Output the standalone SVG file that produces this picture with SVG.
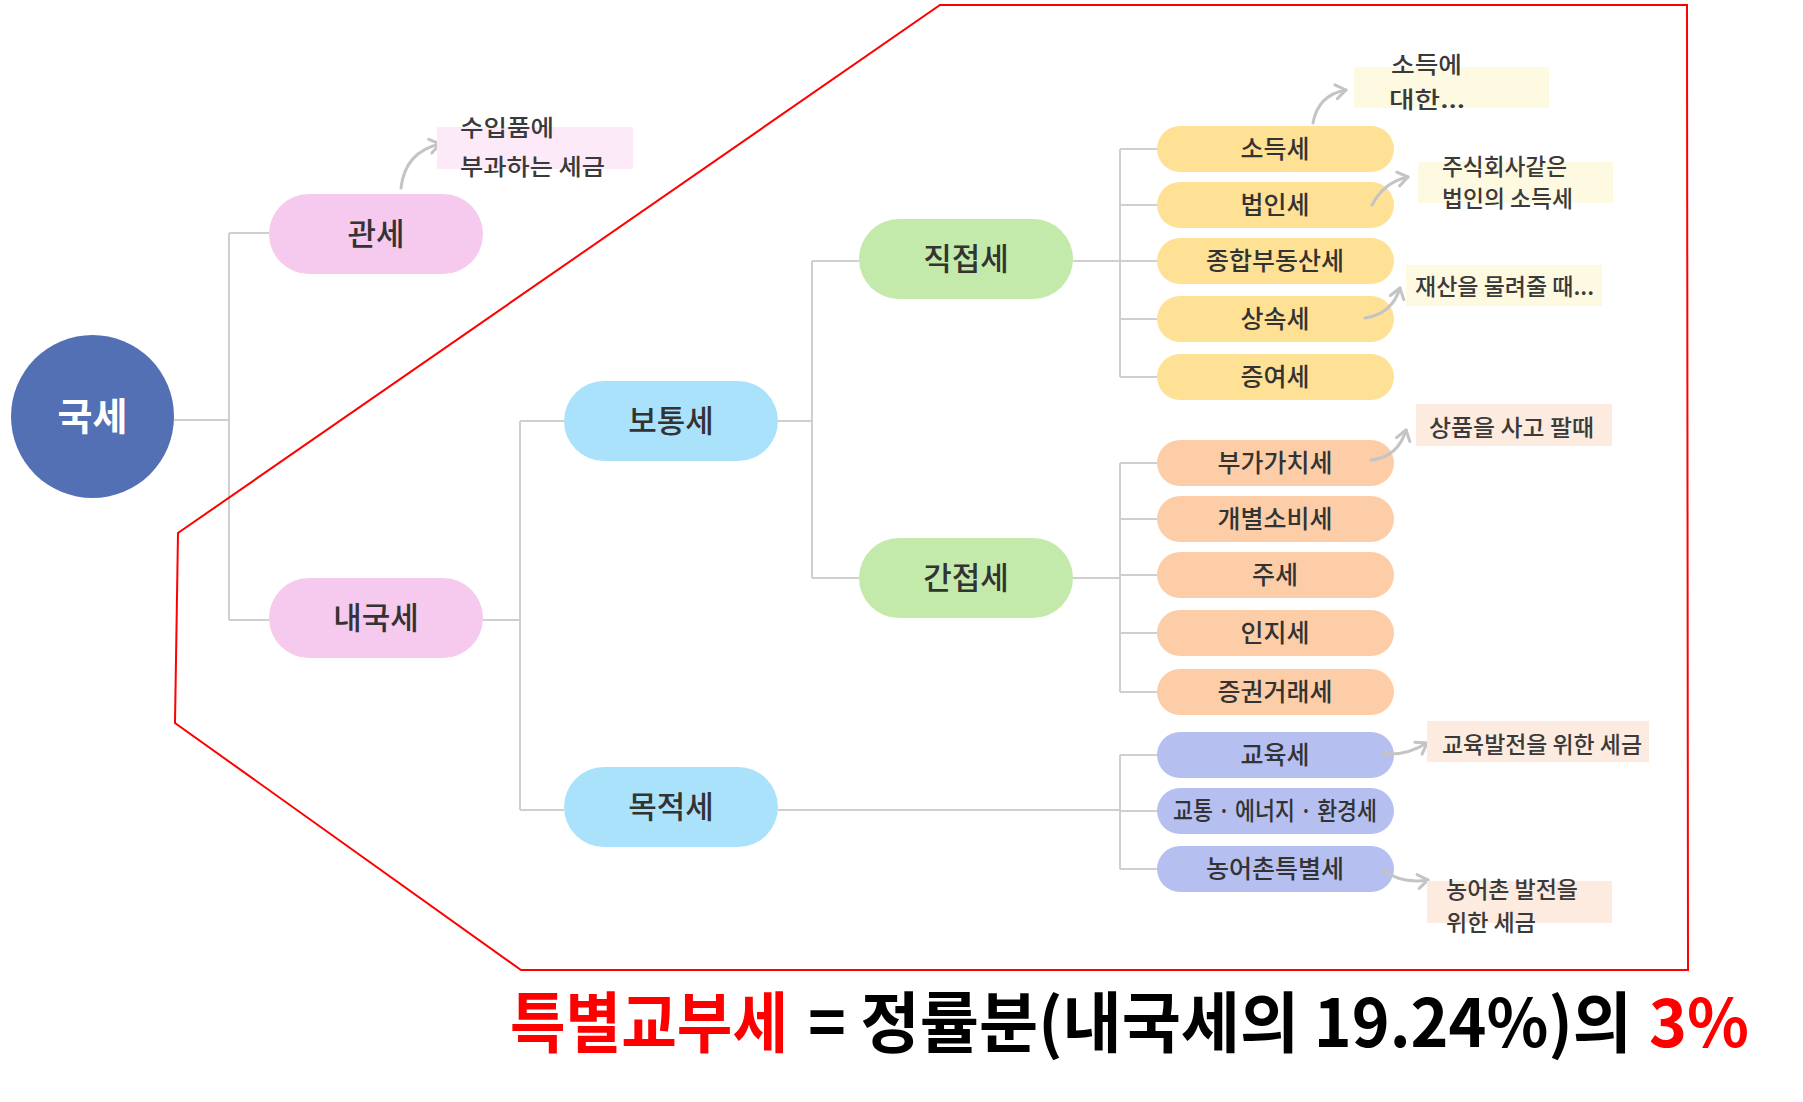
<svg xmlns="http://www.w3.org/2000/svg" width="1803" height="1102" viewBox="0 0 1803 1102">
<defs>
<style>
.lbl{font-family:"Noto Sans CJK KR","Noto Sans",sans-serif;font-weight:500;fill:#333;text-anchor:middle}
.big{font-size:31px}
.leaf{font-size:25px}
.note{font-family:"Noto Sans CJK KR","Noto Sans",sans-serif;font-size:23px;font-weight:500;fill:#3a3a3a}
.conn{fill:none;stroke:#cfcfcf;stroke-width:2}
.arr{fill:none;stroke:#c4c4c4;stroke-width:3;stroke-linecap:round;marker-end:url(#ah)}
.pink{fill:#f6c9ee}
.blue{fill:#aae2fb}
.green{fill:#c3eaab}
.yel{fill:#fee195}
.org{fill:#fdcda7}
.pur{fill:#b5c0f1}
.bot{font-family:"Noto Sans CJK KR","Noto Sans",sans-serif;font-weight:700;font-size:66px}
</style>
<marker id="ah" viewBox="0 0 14 18" refX="12" refY="9" markerWidth="14" markerHeight="18" markerUnits="userSpaceOnUse" orient="auto">
<path d="M2,2 L12,9 L2,16" fill="none" stroke="#c4c4c4" stroke-width="3" stroke-linecap="round" stroke-linejoin="round"/>
</marker>
</defs>
<rect width="1803" height="1102" fill="#fff"/>

<g id="connectors">
<path class="conn" d="M174,420 H229 M229,233 V620 M229,233 H269 M229,620 H269"/>
<path class="conn" d="M483,620 H520 M520,421 V810 M520,421 H564 M520,810 H564"/>
<path class="conn" d="M778,421 H812 M812,261 V578 M812,261 H859 M812,578 H859"/>
<path class="conn" d="M1073,261 H1120 M1120,149 V377 M1120,149 H1157 M1120,205 H1157 M1120,261 H1157 M1120,319 H1157 M1120,377 H1157"/>
<path class="conn" d="M1073,578 H1120 M1120,463 V692 M1120,463 H1157 M1120,519 H1157 M1120,575 H1157 M1120,633 H1157 M1120,692 H1157"/>
<path class="conn" d="M778,810 H1120 M1120,755 V869 M1120,755 H1157 M1120,811 H1157 M1120,869 H1157"/>
</g>

<g id="n-gukse"><circle cx="92.5" cy="416.5" r="81.5" fill="#5470b4"/><text class="lbl" x="92.5" y="430" style="fill:#fff;font-size:38px;font-weight:700">국세</text></g>
<g id="n-gwanse"><rect class="pink" x="269" y="194" width="214" height="80" rx="40"/><text class="lbl big" x="376" y="245">관세</text></g>
<g id="n-naegukse"><rect class="pink" x="269" y="578" width="214" height="80" rx="40"/><text class="lbl big" x="376" y="629">내국세</text></g>
<g id="n-botong"><rect class="blue" x="564" y="381" width="214" height="80" rx="40"/><text class="lbl big" x="671" y="432">보통세</text></g>
<g id="n-mokjeok"><rect class="blue" x="564" y="767" width="214" height="80" rx="40"/><text class="lbl big" x="671" y="818">목적세</text></g>
<g id="n-jikjeop"><rect class="green" x="859" y="219" width="214" height="80" rx="40"/><text class="lbl big" x="966" y="270">직접세</text></g>
<g id="n-ganjeop"><rect class="green" x="859" y="538" width="214" height="80" rx="40"/><text class="lbl big" x="966" y="589">간접세</text></g>

<g id="n-sodeuk"><rect class="yel" x="1157" y="126" width="237" height="46" rx="23"/><text class="lbl leaf" x="1275" y="158">소득세</text></g>
<g id="n-beobin"><rect class="yel" x="1157" y="182" width="237" height="46" rx="23"/><text class="lbl leaf" x="1275" y="214">법인세</text></g>
<g id="n-jonghap"><rect class="yel" x="1157" y="238" width="237" height="46" rx="23"/><text class="lbl leaf" x="1275" y="270">종합부동산세</text></g>
<g id="n-sangsok"><rect class="yel" x="1157" y="296" width="237" height="46" rx="23"/><text class="lbl leaf" x="1275" y="328">상속세</text></g>
<g id="n-jeungyeo"><rect class="yel" x="1157" y="354" width="237" height="46" rx="23"/><text class="lbl leaf" x="1275" y="386">증여세</text></g>

<g id="n-bugagachi"><rect class="org" x="1157" y="440" width="237" height="46" rx="23"/><text class="lbl leaf" x="1275" y="472">부가가치세</text></g>
<g id="n-gaebyeol"><rect class="org" x="1157" y="496" width="237" height="46" rx="23"/><text class="lbl leaf" x="1275" y="528">개별소비세</text></g>
<g id="n-juse"><rect class="org" x="1157" y="552" width="237" height="46" rx="23"/><text class="lbl leaf" x="1275" y="584">주세</text></g>
<g id="n-inji"><rect class="org" x="1157" y="610" width="237" height="46" rx="23"/><text class="lbl leaf" x="1275" y="642">인지세</text></g>
<g id="n-jeunggwon"><rect class="org" x="1157" y="669" width="237" height="46" rx="23"/><text class="lbl leaf" x="1275" y="701">증권거래세</text></g>

<g id="n-gyoyuk"><rect class="pur" x="1157" y="732" width="237" height="46" rx="23"/><text class="lbl leaf" x="1275" y="764">교육세</text></g>
<g id="n-gyotong"><rect class="pur" x="1157" y="788" width="237" height="46" rx="23"/><text class="lbl leaf" x="1275" y="820" textLength="204" lengthAdjust="spacingAndGlyphs">교통 · 에너지 · 환경세</text></g>
<g id="n-nongeochon"><rect class="pur" x="1157" y="846" width="237" height="46" rx="23"/><text class="lbl leaf" x="1275" y="878">농어촌특별세</text></g>

<g id="notes">
<path class="arr" d="M401,188 Q405,152 440,144"/>
<rect x="437" y="127" width="196" height="42" fill="#fdeaf8"/>
<text class="note" x="460" y="136" textLength="94" lengthAdjust="spacingAndGlyphs">수입품에</text>
<text class="note" x="460" y="175" textLength="145" lengthAdjust="spacingAndGlyphs">부과하는 세금</text>

<path class="arr" d="M1313,123 Q1318,95 1346,90"/>
<rect x="1354" y="67" width="195" height="41" fill="#fef9e1"/>
<text class="note" x="1391" y="73" textLength="71" lengthAdjust="spacingAndGlyphs">소득에</text>
<text class="note" x="1389" y="108" textLength="76" lengthAdjust="spacingAndGlyphs">대한...</text>

<path class="arr" d="M1372,205 Q1384,182 1408,177"/>
<rect x="1418" y="162" width="195" height="41" fill="#fef9e1"/>
<text class="note" x="1442" y="175" textLength="125" lengthAdjust="spacingAndGlyphs">주식회사같은</text>
<text class="note" x="1442" y="207" textLength="131" lengthAdjust="spacingAndGlyphs">법인의 소득세</text>

<path class="arr" d="M1365,318 Q1392,314 1400,288"/>
<rect x="1406" y="265" width="196" height="41" fill="#fef9e1"/>
<text class="note" x="1415" y="295" textLength="179" lengthAdjust="spacingAndGlyphs">재산을 물려줄 때...</text>

<path class="arr" d="M1371,460 Q1398,457 1406,430"/>
<rect x="1416" y="404" width="196" height="42" fill="#fdebdf"/>
<text class="note" x="1429" y="436" textLength="165" lengthAdjust="spacingAndGlyphs">상품을 사고 팔때</text>

<path class="arr" d="M1382,753 Q1404,757 1427,743"/>
<rect x="1427" y="721" width="222" height="41" fill="#fdebdf"/>
<text class="note" x="1442" y="753" textLength="200" lengthAdjust="spacingAndGlyphs">교육발전을 위한 세금</text>

<path class="arr" d="M1382,870 Q1402,884 1428,880"/>
<rect x="1427" y="881" width="185" height="42" fill="#fdebdf"/>
<text class="note" x="1446" y="898" textLength="132" lengthAdjust="spacingAndGlyphs">농어촌 발전을</text>
<text class="note" x="1446" y="931" textLength="90" lengthAdjust="spacingAndGlyphs">위한 세금</text>
</g>

<polygon points="940,5 1687,5 1688,970 521,970 175,723 178,533" fill="none" stroke="#ff0000" stroke-width="2"/>

<g id="formula">
<text class="bot" x="510" y="1047" fill="#ff0000" textLength="278" lengthAdjust="spacingAndGlyphs">특별교부세</text>
<text class="bot" x="808" y="1047" fill="#000" textLength="824" lengthAdjust="spacingAndGlyphs">= 정률분(내국세의 19.24%)의</text>
<text class="bot" x="1649" y="1047" fill="#ff0000" textLength="100" lengthAdjust="spacingAndGlyphs">3%</text>
</g>
</svg>
